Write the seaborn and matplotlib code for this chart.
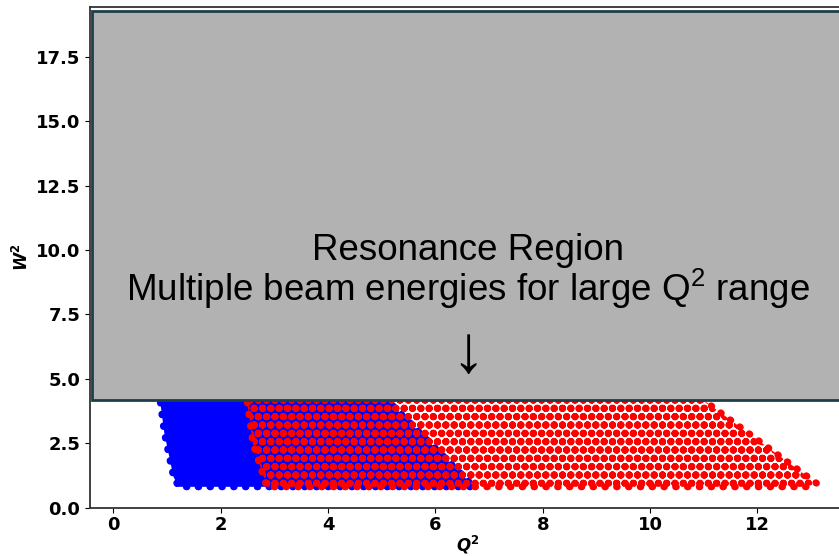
import matplotlib
matplotlib.use("Agg")
import matplotlib.pyplot as plt
import seaborn as sns
import pandas as pd
from matplotlib.patches import Rectangle

# kinematic coverage (Q^2, W^2) envelopes
blue_q2 = [0.86, 0.87, 0.95, 1.12, 1.22, 6.72, 5.10, 4.69]
blue_w2 = [5.00, 4.18, 2.90, 1.20, 0.81, 0.81, 4.18, 5.00]
red_q2 = [2.45, 2.49, 2.60, 2.86, 12.90, 13.10, 10.99, 10.45]
red_w2 = [5.00, 4.18, 2.50, 0.81, 0.81, 0.95, 4.18, 5.00]

x_ticks = [0, 2, 4, 6, 8, 10, 12]
y_ticks = [0.0, 2.5, 5.0, 7.5, 10.0, 12.5, 15.0, 17.5]

line1 = "Resonance Region"
line2 = "Multiple beam energies for large Q$\\mathregular{^2}$ range"

sns.set_style("ticks")
plt.rcParams['hatch.linewidth'] = 2.8
plt.rcParams['text.color'] = 'black'
plt.rcParams['xtick.color'] = 'black'
plt.rcParams['ytick.color'] = 'black'
plt.rcParams['axes.labelcolor'] = 'black'

fig = plt.figure(figsize=(8.39, 5.56), dpi=100)
ax = fig.add_axes([90/839, 48.3/556, 755/839, 501/556])

blue = pd.DataFrame({'q2': blue_q2 + blue_q2[:1], 'w2': blue_w2 + blue_w2[:1]})
red = pd.DataFrame({'q2': red_q2 + red_q2[:1], 'w2': red_w2 + red_w2[:1]})

ax.fill(blue_q2, blue_w2, color='#0000ff', lw=0, zorder=1)
sns.lineplot(data=blue, x='q2', y='w2', sort=False, color='#0000ff', lw=5,
             linestyle=(0, (0.1, 1.6)), dash_capstyle='round', ax=ax, zorder=1)
ax.fill(red_q2, red_w2, facecolor='none', edgecolor='#ff0000', hatch='oo', lw=0, zorder=2)
sns.lineplot(data=red, x='q2', y='w2', sort=False, color='#ff0000', lw=5,
             linestyle=(0, (0.1, 1.6)), dash_capstyle='round', ax=ax, zorder=2)

ax.add_patch(Rectangle((-0.40, 4.18), 15, 15.11, facecolor='#b1b2b1',
                       edgecolor='#1c3f4a', lw=2, zorder=3))
font = ['Liberation Sans', 'DejaVu Sans']
ax.text(6.61, 9.61, line1, ha='center', va='baseline', fontsize=26.5, family=font, zorder=4)
ax.text(6.61, 8.02, line2, ha='center', va='baseline', fontsize=26.5, family=font, zorder=4)
ax.text(6.61, 5.92, "\u2193", ha='center', va='center', fontsize=48, family=font, zorder=4)

ax.set_xlim(-0.434, 13.63)
ax.set_ylim(0, 19.44)
ax.set_xticks(x_ticks)
ax.set_yticks(y_ticks)
ax.tick_params(axis='x', pad=2.5)
ax.set_xticklabels([str(t) for t in x_ticks], fontweight='bold', fontsize=13)
ax.set_yticklabels([f"{t:.1f}" for t in y_ticks], fontweight='bold', fontsize=13)
ax.set_xlabel(r"$\mathbfit{Q}^{\mathbf{2}}$", fontsize=12, labelpad=0)
ax.set_ylabel(r"$\mathbfit{W}^{\mathbf{2}}$", fontsize=12, labelpad=3)
for s in ax.spines.values():
    s.set_color('#333333')
    s.set_linewidth(1.3)

fig.savefig("out.png", dpi=100)
